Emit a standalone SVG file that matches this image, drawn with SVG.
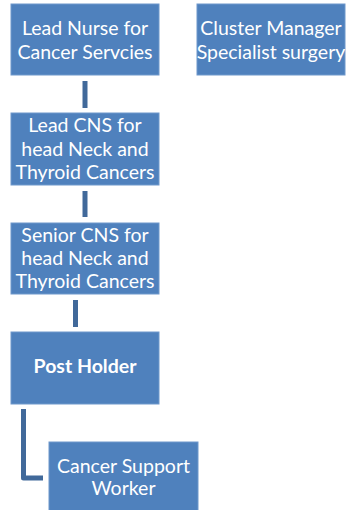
<svg xmlns="http://www.w3.org/2000/svg" width="347" height="510" viewBox="0 0 347 510">
<style>
.box{fill:#4F81BD;stroke:#6F98CB;stroke-width:1}
.t{font-family:"Lato","Liberation Sans",sans-serif;font-size:19.5px;fill:#FFFFFF;text-anchor:middle}
.b{font-weight:bold}
.c{fill:none;stroke:#41699A;stroke-width:5}
</style>
<rect width="347" height="510" fill="#FFFFFF"/>
<g id="connectors">
<line class="c" x1="85" y1="81" x2="85" y2="108"/>
<line class="c" x1="85" y1="191" x2="85" y2="217"/>
<line class="c" x1="75.5" y1="300" x2="75.5" y2="327"/>
<polyline class="c" points="23.5,409 23.5,478 43,478" stroke-linejoin="round"/>
</g>
<g id="lead-nurse">
<rect class="box" x="11" y="4" width="148" height="71"/>
<text class="t" x="85" y="35">Lead Nurse for</text>
<text class="t" x="85" y="58.5">Cancer Servcies</text>
</g>
<g id="cluster-manager">
<rect class="box" x="197" y="4" width="148" height="71"/>
<text class="t" x="271" y="35">Cluster Manager</text>
<text class="t" x="271" y="58.5">Specialist surgery</text>
</g>
<g id="lead-cns">
<rect class="box" x="11" y="113" width="148" height="72"/>
<text class="t" x="85" y="132">Lead CNS for</text>
<text class="t" x="85" y="156">head Neck and</text>
<text class="t" x="85" y="179">Thyroid Cancers</text>
</g>
<g id="senior-cns">
<rect class="box" x="11" y="223" width="148" height="71"/>
<text class="t" x="85" y="242">Senior CNS for</text>
<text class="t" x="85" y="265">head Neck and</text>
<text class="t" x="85" y="288">Thyroid Cancers</text>
</g>
<g id="post-holder">
<rect class="box" x="11" y="332" width="148" height="72"/>
<text class="t b" x="85" y="373">Post Holder</text>
</g>
<g id="cancer-support-worker">
<rect class="box" x="49" y="442" width="149" height="72"/>
<text class="t" x="123.5" y="473">Cancer Support</text>
<text class="t" x="123.5" y="495">Worker</text>
</g>
</svg>
